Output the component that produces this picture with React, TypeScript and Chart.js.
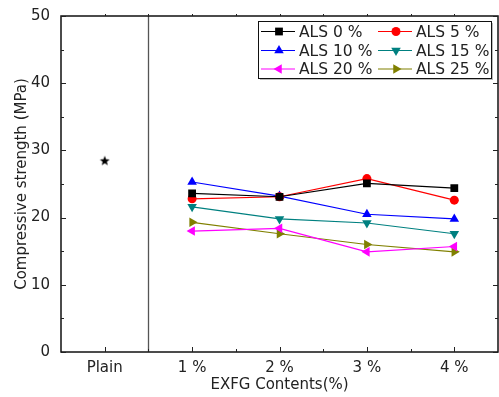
import React, { useEffect, useRef } from "react";
import { Chart, registerables } from "chart.js";

Chart.register(...registerables);

const categories = ["Plain", "1 %", "2 %", "3 %", "4 %"];
const plainValues = [28.5, null, null, null, null];
const als0 = [null, 23.6, 23.1, 25.1, 24.4];
const als5 = [null, 22.8, 23.1, 25.8, 22.6];
const als10 = [null, 25.3, 23.2, 20.5, 19.8];
const als15 = [null, 21.6, 19.8, 19.2, 17.6];
const als20 = [null, 18.0, 18.4, 14.9, 15.7];
const als25 = [null, 19.3, 17.6, 16.0, 14.9];
const seriesNames = ["ALS 0 %", "ALS 5 %", "ALS 10 %", "ALS 15 %", "ALS 20 %", "ALS 25 %"];
const yTicks = [0, 10, 20, 30, 40, 50];

const FONT = "'DejaVu Sans', sans-serif";
const TEXT = "#222";
const FS = 15;

function makeStar(): HTMLCanvasElement {
  const c = document.createElement("canvas");
  c.width = 12;
  c.height = 12;
  const g = c.getContext("2d")!;
  g.fillStyle = "#000";
  g.beginPath();
  for (let i = 0; i < 10; i++) {
    const r = i % 2 === 0 ? 5.2 : 2.2;
    const a = -Math.PI / 2 + (i * Math.PI) / 5;
    const x = 6 + r * Math.cos(a);
    const y = 6.5 + r * Math.sin(a);
    if (i === 0) g.moveTo(x, y);
    else g.lineTo(x, y);
  }
  g.closePath();
  g.fill();
  return c;
}

function drawMarker(ctx: CanvasRenderingContext2D, style: string, rot: number, x: number, y: number, r: number, color: string) {
  ctx.save();
  ctx.fillStyle = color;
  ctx.beginPath();
  if (style === "rect") {
    const s = Math.SQRT1_2 * r;
    ctx.rect(x - s, y - s, 2 * s, 2 * s);
  } else if (style === "circle") {
    ctx.arc(x, y, r, 0, Math.PI * 2);
  } else {
    const rad = (rot * Math.PI) / 180;
    for (let i = 0; i < 3; i++) {
      const a = rad + (i * 2 * Math.PI) / 3;
      const px = x + Math.sin(a) * r;
      const py = y - Math.cos(a) * r;
      if (i === 0) ctx.moveTo(px, py);
      else ctx.lineTo(px, py);
    }
    ctx.closePath();
  }
  ctx.fill();
  ctx.restore();
}

const styles = [
  { color: "#000000", style: "rect", rot: 0, r: 5.5 },
  { color: "#ff0000", style: "circle", rot: 0, r: 4.5 },
  { color: "#0000ff", style: "triangle", rot: 0, r: 5.5 },
  { color: "#008080", style: "triangle", rot: 180, r: 5.5 },
  { color: "#ff00ff", style: "triangle", rot: -90, r: 5.5 },
  { color: "#808000", style: "triangle", rot: 90, r: 5.5 },
];

const areaFixPlugin = {
  id: "areaFix",
  afterLayout(chart: any) {
    const a = chart.chartArea;
    const target = 498;
    if (a.right !== target) {
      a.right = target;
      a.width = a.right - a.left;
      const x = chart.scales.x;
      x.right = target;
      x.width = x.right - x.left;
      x.configure();
    }
  },
};

const framePlugin = {
  id: "frameDecor",
  afterDatasetsDraw(chart: any) {
    const ctx: CanvasRenderingContext2D = chart.ctx;
    const a = chart.chartArea;
    const xs = chart.scales.x;
    const ys = chart.scales.y;
    ctx.save();
    const xd = (xs.getPixelForValue(0) + xs.getPixelForValue(1)) / 2;
    ctx.strokeStyle = "#555";
    ctx.lineWidth = 1.3;
    ctx.beginPath();
    ctx.moveTo(Math.round(xd) + 0.5, a.top);
    ctx.lineTo(Math.round(xd) + 0.5, a.bottom);
    ctx.stroke();
    ctx.strokeStyle = "#111";
    ctx.lineWidth = 1.5;
    ctx.strokeRect(a.left, a.top, a.right - a.left, a.bottom - a.top);
    ctx.lineWidth = 1;
    ctx.strokeStyle = "#222";
    ctx.beginPath();
    for (let v = 0; v <= 50; v += 5) {
      const py = Math.round(ys.getPixelForValue(v)) + 0.5;
      const len = v % 10 === 0 ? 5 : 3;
      ctx.moveTo(a.left, py);
      ctx.lineTo(a.left + len, py);
      ctx.moveTo(a.right, py);
      ctx.lineTo(a.right - len, py);
    }
    for (let i = 0; i < categories.length; i++) {
      const px = Math.round(xs.getPixelForValue(i)) + 0.5;
      ctx.moveTo(px, a.bottom);
      ctx.lineTo(px, a.bottom - 5);
      ctx.moveTo(px, a.top);
      ctx.lineTo(px, a.top - 2);
      if (i > 0) {
        const pm = Math.round((xs.getPixelForValue(i - 1) + xs.getPixelForValue(i)) / 2) + 0.5;
        ctx.moveTo(pm, a.bottom);
        ctx.lineTo(pm, a.bottom - 3);
        ctx.moveTo(pm, a.top);
        ctx.lineTo(pm, a.top - 2);
      }
    }
    ctx.stroke();
    // legend
    const bx = 258, by = 21, bw = 233, bh = 57;
    ctx.fillStyle = "#bbb";
    ctx.fillRect(bx + 2, by + 2, bw, bh);
    ctx.fillStyle = "#fff";
    ctx.fillRect(bx, by, bw, bh);
    ctx.strokeStyle = "#111";
    ctx.lineWidth = 1;
    ctx.strokeRect(bx + 0.5, by + 0.5, bw, bh);
    ctx.font = `${FS + 0.5}px ${FONT}`;
    ctx.textBaseline = "middle";
    ctx.textAlign = "left";
    const rowY = [31.5, 50.5, 69];
    const colX = [261, 378];
    seriesNames.forEach((name, i) => {
      const row = Math.floor(i / 2);
      const col = i % 2;
      const s = styles[i];
      const x0 = colX[col];
      const y0 = rowY[row];
      ctx.strokeStyle = s.color;
      ctx.lineWidth = 1.2;
      ctx.beginPath();
      ctx.moveTo(x0, y0);
      ctx.lineTo(x0 + 34, y0);
      ctx.stroke();
      drawMarker(ctx, s.style, s.rot, x0 + 18, y0, s.r, s.color);
      ctx.fillStyle = TEXT;
      ctx.fillText(name, x0 + 38, y0 + 1);
    });
    ctx.restore();
  },
};

export default function App() {
  const ref = useRef<HTMLCanvasElement | null>(null);
  useEffect(() => {
    document.body.style.margin = "0";
    const star = makeStar();
    const series = [als0, als5, als10, als15, als20, als25];
    const datasets: any[] = [
      {
        label: "Plain",
        data: plainValues,
        pointStyle: star,
        pointRadius: 6,
        borderWidth: 0,
        borderColor: "#000",
        backgroundColor: "#000",
        showLine: false,
      },
      ...series.map((d, i) => ({
        label: seriesNames[i],
        data: d,
        borderColor: styles[i].color,
        backgroundColor: styles[i].color,
        pointBackgroundColor: styles[i].color,
        pointBorderColor: styles[i].color,
        pointBorderWidth: 0,
        pointStyle: styles[i].style,
        pointRotation: styles[i].rot,
        pointRadius: styles[i].r,
        borderWidth: 1.2,
        tension: 0,
      })),
    ];
    const chart = new Chart(ref.current!, {
      type: "line",
      data: { labels: categories, datasets },
      options: {
        animation: false,
        responsive: false,
        devicePixelRatio: 1,
        layout: { padding: { top: 16, right: 1, left: 0, bottom: 0 } },
        plugins: { legend: { display: false }, tooltip: { enabled: false } },
        scales: {
          x: {
            type: "category",
            offset: true,
            grid: { display: false, drawTicks: false },
            border: { display: false },
            ticks: { color: TEXT, font: { family: FONT, size: FS }, padding: 7, maxRotation: 0 },
            title: {
              display: true,
              text: "EXFG Contents(%)",
              color: TEXT,
              font: { family: FONT, size: FS },
              padding: { top: 0, bottom: 2.5 },
            },
            afterFit: (s: any) => {
              s.height = 45;
              s.paddingLeft = 0;
              s.paddingRight = 0;
            },
          },
          y: {
            min: 0,
            max: 50,
            grid: { display: false, drawTicks: false },
            border: { display: false },
            afterBuildTicks: (s: any) => {
              s.ticks = yTicks.map((v) => ({ value: v }));
            },
            ticks: { color: TEXT, font: { family: FONT, size: FS }, padding: 11 },
            title: {
              display: true,
              text: "Compressive strength (MPa)",
              color: TEXT,
              font: { family: FONT, size: FS },
              padding: { top: 13, bottom: 0 },
            },
            afterFit: (s: any) => {
              s.width = 61;
              s.paddingTop = 0;
              s.paddingBottom = 0;
            },
          },
        },
      },
      plugins: [areaFixPlugin, framePlugin],
    });
    return () => chart.destroy();
  }, []);
  return (
    <div style={{ width: 499, height: 397 }}>
      <canvas ref={ref} width={499} height={397} style={{ display: "block" }} />
    </div>
  );
}
